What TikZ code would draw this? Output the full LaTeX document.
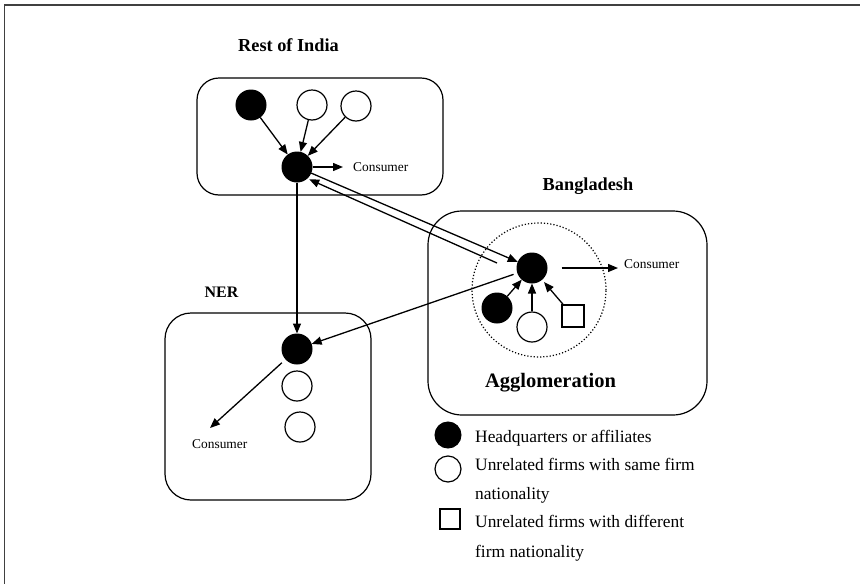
\documentclass[tikz,border=0pt]{standalone}
\usepackage{fontspec}
\setmainfont{Liberation Serif}
\usetikzlibrary{arrows.meta}
\begin{document}
\begin{tikzpicture}[x=1pt,y=-1pt,
  arr/.style={-{Triangle[length=10pt,width=8pt]}, line width=1.3pt},
  region/.style={draw, line width=1.2pt},
  hq/.style={circle, fill=black, draw=black, minimum size=30pt, inner sep=0pt, line width=1pt},
  uf/.style={circle, draw=black, fill=white, minimum size=30pt, inner sep=0pt, line width=1.2pt},
  df/.style={rectangle, draw=black, fill=white, minimum size=22pt, inner sep=0pt, line width=1.2pt},
  title/.style={font=\fontsize{18.3}{20}\selectfont\bfseries, anchor=base, inner sep=0pt},
  cons/.style={font=\fontsize{13.4}{15}\selectfont, anchor=base west, inner sep=0pt},
  legtext/.style={font=\fontsize{17.4}{20}\selectfont, anchor=base west, inner sep=0pt}
]
\useasboundingbox (0,0) rectangle (860,584);
\draw[line width=1.5pt, black!75] (4.5,584) -- (4.5,5) -- (860,5);

% region boxes
\draw[region, rounded corners=22pt] (197,78) rectangle (443,195);
\draw[region, rounded corners=26pt] (165,313) rectangle (371,500);
\draw[region, rounded corners=34pt] (428,211) rectangle (707,415);

% titles
\node[title] (troi) at (288.5,51) {Rest of India};
\node[title] (tbgd) at (588,190) {Bangladesh};
\node[title, font=\fontsize{16}{18}\selectfont\bfseries] (tner) at (221.5,297) {NER};
\node[title, font=\fontsize{20.5}{22}\selectfont\bfseries] (tagg) at (550.5,387) {Agglomeration};

% Rest of India firms
\node[hq] (r1) at (251,105) {};
\node[uf] (r2) at (312,105) {};
\node[uf] (r3) at (356,106) {};
\node[hq] (rc) at (297,167) {};
\node[cons] (rct) at (353,171) {Consumer};
\coordinate (rce) at (343,167);

% NER firms
\node[hq] (nc) at (297,349) {};
\node[uf] (n2) at (297,386) {};
\node[uf] (n3) at (300,427) {};
\node[cons] (nct) at (192,448) {Consumer};
\coordinate (nce) at (210,428);

% Bangladesh agglomeration
\node[circle, draw, dotted, line width=1.2pt, minimum size=134pt, inner sep=0pt] (agg) at (539,290) {};
\node[hq] (bc) at (532,268) {};
\node[hq] (bf) at (497,308) {};
\node[uf] (be) at (532,327) {};
\node[df] (bs) at (573,316) {};
\node[cons] (bct) at (624,268) {Consumer};
\coordinate (bce) at (618,268);
\coordinate (bret) at (497,263);

% connectors
\draw[arr] (r1) -- (rc);
\draw[arr] (r2) -- (rc);
\draw[arr] (r3) -- (rc);
\draw[arr] (rc) -- (rce);
\draw[arr] (rc) -- (nc);
\draw[arr] (rc) -- (bc);
\draw[arr, shorten >=2pt] (bret) -- (rc.-48);
\draw[arr, shorten <=4pt] (bc) -- (nc);
\draw[arr, shorten <=5pt] (nc) -- (nce);
\draw[arr, shorten <=14pt] (bc) -- (bce);
\draw[arr] (bf) -- (bc);
\draw[arr] (be) -- (bc);
\draw[arr, shorten >=3pt] (bs) -- (bc);

% legend
\node[hq, minimum size=26pt] (lhq) at (448,435) {};
\node[uf, minimum size=26pt] (luf) at (448,469) {};
\node[df, minimum size=20pt] (ldf) at (450,519) {};
\node[legtext] (l1) at (475,442) {Headquarters or affiliates};
\node[legtext] (l2) at (475,470) {Unrelated firms with same firm};
\node[legtext] (l3) at (475,499) {nationality};
\node[legtext] (l4) at (475,527) {Unrelated firms with different};
\node[legtext] (l5) at (475,557) {firm nationality};
\end{tikzpicture}
\end{document}
